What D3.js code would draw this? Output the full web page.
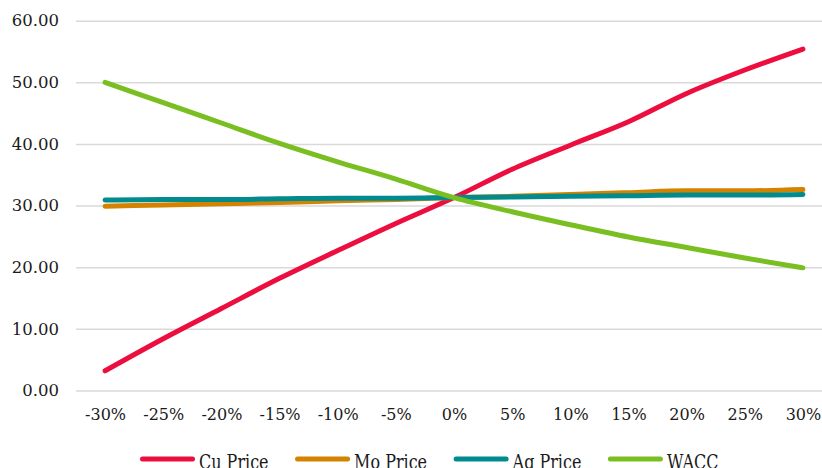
<!DOCTYPE html>
<html>
<head>
<meta charset="utf-8">
<script src="https://cdn.jsdelivr.net/npm/d3@7"></script>
<style>
  html, body { margin: 0; padding: 0; background: #fff; }
  svg { display: block; }
</style>
</head>
<body>
<svg id="chart" width="822" height="468"></svg>
<script>
// Sensitivity of NPV to changes in key inputs
const categories = ["-30%", "-25%", "-20%", "-15%", "-10%", "-5%", "0%", "5%", "10%", "15%", "20%", "25%", "30%"];
const cuPrice = [3.2, 8.4, 13.3, 18.2, 22.7, 27.1, 31.3, 35.9, 39.8, 43.6, 48.2, 52.0, 55.4];
const moPrice = [29.9, 30.1, 30.3, 30.5, 30.8, 31.0, 31.3, 31.5, 31.8, 32.1, 32.4, 32.4, 32.6];
const agPrice = [30.9, 31.0, 31.0, 31.1, 31.2, 31.2, 31.3, 31.4, 31.5, 31.6, 31.7, 31.7, 31.8];
const wacc    = [50.0, 46.7, 43.4, 40.1, 37.1, 34.3, 31.3, 29.0, 26.9, 24.9, 23.2, 21.5, 19.9];
const seriesNames = ["Cu Price", "Mo Price", "Ag Price", "WACC"];
const seriesColors = ["#EC0E3E", "#D38300", "#008B8F", "#7ABF22"];
const yTicks = [0, 10, 20, 30, 40, 50, 60];

const series = [cuPrice, moPrice, agPrice, wacc].map((values, i) => ({
  name: seriesNames[i],
  color: seriesColors[i],
  values: values.map((v, j) => ({ cat: categories[j], v }))
}));

const FONT = "'DejaVu Serif', Georgia, serif";
const svg = d3.select("#chart");
const plotLeft = 76, plotRight = 832, plotTop = 20.7, plotBottom = 390.5;

const x = d3.scalePoint().domain(categories).range([plotLeft, plotRight]).padding(0.5);
const y = d3.scaleLinear().domain([0, 60]).range([plotBottom, plotTop]);

// Gridlines and value labels
const yAxis = svg.append("g")
  .attr("transform", `translate(${plotLeft},0)`)
  .call(d3.axisLeft(y).tickValues(yTicks).tickFormat(d3.format(".2f"))
    .tickSize(-(plotRight - plotLeft)).tickPadding(17));
yAxis.select(".domain").remove();
yAxis.selectAll(".tick line").attr("stroke", "#d9d9d9").attr("stroke-width", 1.5);
yAxis.selectAll(".tick text")
  .attr("fill", "#1a1a1a")
  .style("font-family", FONT)
  .style("font-size", "16.5px");

// Category labels
const xAxis = svg.append("g")
  .attr("transform", `translate(0,${plotBottom})`)
  .call(d3.axisBottom(x).tickSize(0).tickPadding(18));
xAxis.select(".domain").remove();
xAxis.selectAll(".tick text")
  .attr("fill", "#1a1a1a")
  .style("font-family", FONT)
  .style("font-size", "16px");

// Series lines
const line = d3.line()
  .x(d => x(d.cat))
  .y(d => y(d.v))
  .curve(d3.curveMonotoneX);

svg.append("g").selectAll("path")
  .data(series)
  .join("path")
  .attr("d", d => line(d.values))
  .attr("fill", "none")
  .attr("stroke", d => d.color)
  .attr("stroke-width", 5)
  .attr("stroke-linecap", "round")
  .attr("stroke-linejoin", "round");

// Legend (a tall serif, running off the bottom edge)
const legend = svg.append("g").attr("transform", "translate(140,459)");
let cursor = 0;
series.forEach(s => {
  const item = legend.append("g").attr("transform", `translate(${cursor},0)`);
  item.append("line")
    .attr("x1", 2.5).attr("x2", 52.5).attr("y1", 0).attr("y2", 0)
    .attr("stroke", s.color).attr("stroke-width", 5).attr("stroke-linecap", "round");
  const t = item.append("text")
    .attr("transform", "translate(59,9.5) scale(1,1.3)")
    .attr("fill", "#1a1a1a")
    .style("font-family", FONT)
    .style("font-size", "16px")
    .text(s.name);
  cursor += 59 + t.node().getComputedTextLength() + 26.5;
});
</script>
</body>
</html>
